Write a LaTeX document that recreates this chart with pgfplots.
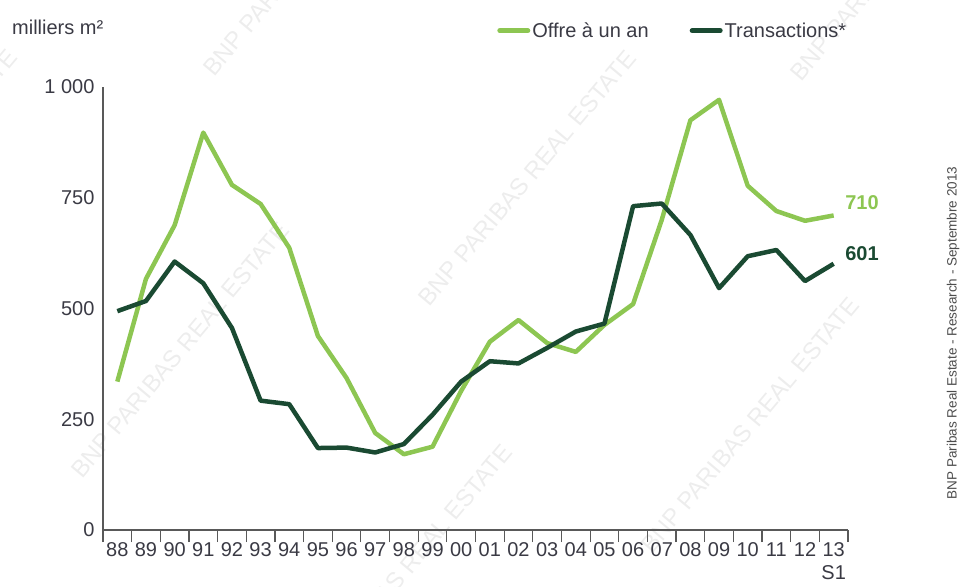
\documentclass[border=0pt]{standalone}
\usepackage{fontspec}
\setmainfont{Liberation Sans}
\usepackage{pgfplots}
\pgfplotsset{compat=1.18}
\definecolor{offre}{HTML}{8DC652}
\definecolor{trans}{HTML}{1A4A32}
\definecolor{txt}{HTML}{3A3A44}
\definecolor{wm}{HTML}{EDEDED}

\pgfplotstableread{
x     offre trans
0.5   335   494
1.5   567   517
2.5   688   606
3.5   897   557
4.5   779   456
5.5   736   292
6.5   637   284
7.5   438   185
8.5   343   186
9.5   219   175
10.5  171   194
11.5  188   260
12.5  314   335
13.5  425   381
14.5  474   376
15.5  422   411
16.5  402   448
17.5  463   466
18.5  510   731
19.5  700   737
20.5  925   666
21.5  971   546
22.5  777   618
23.5  720   632
24.5  698   562
25.5  710   601
}\datatable

\begin{document}
\begin{tikzpicture}
\clip (0pt,0pt) rectangle (960pt,586pt);
% watermark
\foreach \cx/\cy in {312/638, 180/236, 527/408, 899/633, 750/161, 403/14, -92/409}
  \node[rotate=50, text=wm, font=\fontsize{24}{24}\selectfont] at (\cx pt,\cy pt) {BNP PARIBAS REAL ESTATE};

\begin{axis}[
  at={(103pt,56pt)}, anchor=south west,
  scale only axis, width=745pt, height=443pt,
  xmin=0, xmax=26, ymin=0, ymax=1000,
  axis lines*=left,
  axis line style={draw=black!65, line width=1.2pt},
  tick align=outside,
  major tick length=0pt,
  minor tick length=12pt,
  minor tick style={draw=black!65, line width=1.2pt},
  xtick={0.5,1.5,...,25.5},
  minor xtick={0,1,...,26},
  xticklabels={88,89,90,91,92,93,94,95,96,97,98,99,00,01,02,03,04,05,06,07,08,09,10,11,12,13\\S1},
  xticklabel style={align=center, yshift=-9pt, text=txt, font=\fontsize{20}{23}\selectfont},
  ytick={0,250,500,750,1000},
  yticklabels={0,250,500,750,1 000},
  yticklabel style={xshift=-5pt, text=txt, font=\fontsize{20}{23}\selectfont},
  clip=false,
  legend style={at={(0.529,1.127)}, anchor=west, draw=none, fill=none,
    inner sep=0pt, text=txt, font=\fontsize{20}{23}\selectfont,
    /tikz/every even column/.append style={column sep=39pt}},
  legend columns=2,
  legend image code/.code={\draw[#1, line width=5pt, line cap=round] (0pt,0pt) -- (28pt,0pt);},
]
\addplot[offre, line width=4.5pt, line join=round] table[x=x, y=offre] {\datatable};
\addlegendentry{Offre à un an}
\addplot[trans, line width=4.5pt, line join=round] table[x=x, y=trans] {\datatable};
\addlegendentry{Transactions*}
\node[anchor=west, inner sep=0pt, text=offre, font=\bfseries\fontsize{20}{23}\selectfont] at (axis cs:25.9,738) {710};
\node[anchor=west, inner sep=0pt, text=trans, font=\bfseries\fontsize{20}{23}\selectfont] at (axis cs:25.9,625) {601};
\end{axis}

\node[anchor=west, inner sep=0pt, text=txt, font=\fontsize{20}{23}\selectfont] at (12pt,559pt) {milliers m²};
\node[rotate=90, inner sep=0pt, text=black!70, font=\fontsize{13.5}{15}\selectfont] at (953pt,253pt) {BNP Paribas Real Estate - Research - Septembre 2013};
\end{tikzpicture}
\end{document}
